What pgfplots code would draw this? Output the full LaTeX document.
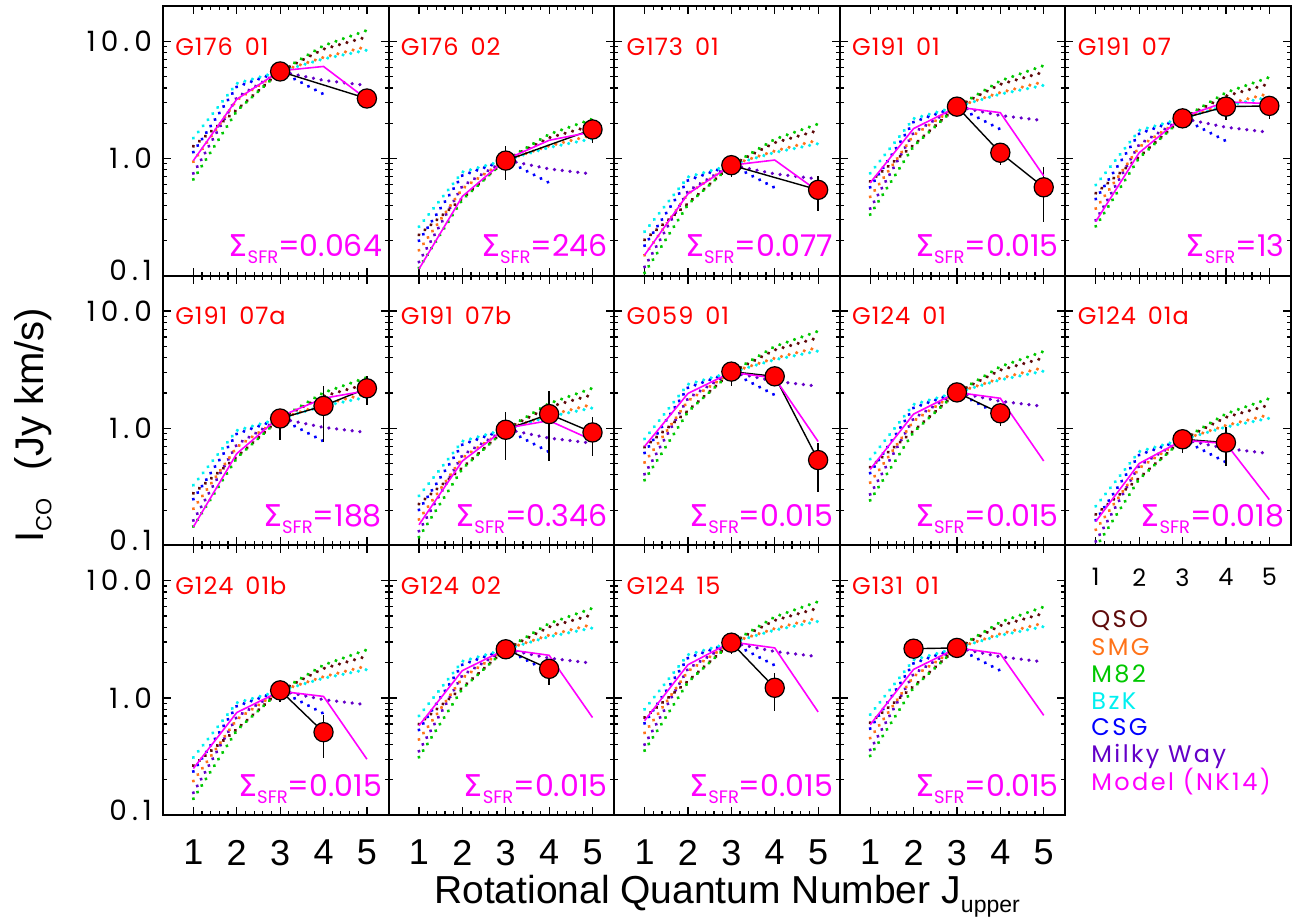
\documentclass[border=0pt]{standalone}
\usepackage{fontspec}
\setmainfont{Poppins}
\newfontfamily\lib{Liberation Sans}
\newfontfamily\dv{DejaVu Sans}
\newfontfamily\tickf[LetterSpace=18]{Poppins}
\newfontfamily\legf[LetterSpace=10]{Poppins}
\newfontfamily\labf[LetterSpace=4]{Poppins}
\usepackage{pgfplots}
\pgfplotsset{compat=1.18}
\usepackage{pgfplotstable}

\definecolor{cqso}{RGB}{95,10,10}
\definecolor{csmg}{RGB}{255,115,25}
\definecolor{cm82}{RGB}{0,200,0}
\definecolor{cbzk}{RGB}{0,240,240}
\definecolor{ccsg}{RGB}{0,0,255}
\definecolor{cmw}{RGB}{100,0,200}
\definecolor{cmod}{RGB}{255,0,255}
\definecolor{clab}{RGB}{255,0,0}

% template SLEDs, normalised to J=3
\pgfplotstableread{
J QSO SMG M82 BzK MW
1 0.23 0.17 0.12 0.27 0.135
2 0.47 0.57 0.46 0.79 0.60
3 1 1 1 1 1
4 1.55 1.32 1.66 1.28 0.84
5 1.97 1.63 2.24 1.52 0.76
}\sledtab
\pgfplotstableread{
J CSG
1 0.205
2 0.74
3 1
4 0.64
}\csgtab

\pgfplotsset{
 myPanel/.style={scale only axis, width=112.8pt, height=134.85pt, anchor=north west,
  xmin=0.3, xmax=5.5, ymin=0.1, ymax=20,
  xtick={1,2,3,4,5}, minor x tick num=4,
  ytick={0.1,1,10},
  minor ytick={0.2,0.3,0.4,0.5,0.6,0.7,0.8,0.9,2,3,4,5,6,7,8,9},
  xticklabels={}, yticklabels={},
  tick align=inside, major tick length=4pt, minor tick length=2pt,
  tick style={black, line width=0.6pt},
  axis line style={line width=1pt},
 },
 myYlab/.style={yticklabels={{\raisebox{5pt}{0.1}},1.0,10.0},
   yticklabel style={font=\tickf\fontsize{14}{14}\selectfont, xshift=-2pt}},
 myXlab/.style={xticklabels={1,2,3,4,5},
   xticklabel style={font=\lib\fontsize{18}{18}\selectfont, yshift=-9pt}},
 myXlabs/.style={xticklabels={1,2,3,4,5},
   xticklabel style={font=\fontsize{12}{12}\selectfont, yshift=-8pt}},
 myTmp/.style={line width=1.8pt, line cap=round, dash pattern=on 0.01pt off 3.9pt, no marks},
}

\newcommand{\templates}[1]{%
 \addplot[myTmp, cmw] table[x=J, y expr=\thisrow{MW}*#1]{\sledtab};
 \addplot[myTmp, ccsg] table[x=J, y expr=\thisrow{CSG}*#1]{\csgtab};
 \addplot[myTmp, cbzk] table[x=J, y expr=\thisrow{BzK}*#1]{\sledtab};
 \addplot[myTmp, csmg] table[x=J, y expr=\thisrow{SMG}*#1]{\sledtab};
 \addplot[myTmp, cqso] table[x=J, y expr=\thisrow{QSO}*#1]{\sledtab};
 \addplot[myTmp, cm82] table[x=J, y expr=\thisrow{M82}*#1]{\sledtab};
}
\newcommand{\obs}[1]{%
 \addplot[only marks, mark=none, error bars/.cd, y dir=both, y explicit, error mark=none,
   error bar style={black, solid, line width=0.7pt}]
   table[x=J, y=I, y error plus=ep, y error minus=em, row sep=\\]{J I ep em\\ #1};
 \addplot[black, line width=0.7pt, mark=*, mark size=4.8pt,
   mark options={fill=red, draw=black, line width=0.6pt}]
   table[x=J, y=I, row sep=\\]{J I ep em\\ #1};
}
\newcommand{\model}[5]{\addplot[cmod, line width=0.8pt, no marks] coordinates {(1,#1)(2,#2)(3,#3)(4,#4)(5,#5)};}
\newcommand{\plab}[1]{\node[anchor=base west, text=clab, font=\labf\fontsize{12}{12}\selectfont, inner sep=0] at (rel axis cs:0.053,0.818) {#1};}
\newcommand{\sfr}[1]{\node[anchor=base east, text=cmod, font=\fontsize{15}{15}\selectfont, inner sep=0] at (rel axis cs:0.972,0.07) {{\dv Σ}\raisebox{-3.5pt}{\fontsize{9}{9}\selectfont SFR}=#1};}

\begin{document}
\begin{tikzpicture}
\useasboundingbox (0,0) rectangle (646.5pt,-461pt);

% ---------- row 1 ----------
\begin{semilogyaxis}[myPanel, myYlab, at={(81.5pt,-3pt)}]
\templates{5.53}
\obs{3 5.53 0 0\\ 5 3.25 0 0\\}
\model{0.96}{3.2}{5.6}{6.1}{3.2}
\plab{G176\hspace{0.5em}01}\sfr{0.064}
\end{semilogyaxis}

\begin{semilogyaxis}[myPanel, at={(194.3pt,-3pt)}]
\templates{0.97}
\obs{3 0.96 0.32 0.31\\ 5 1.77 0.39 0.41\\}
\model{0.114}{0.475}{0.98}{1.43}{1.69}
\plab{G176\hspace{0.5em}02}\sfr{246}
\end{semilogyaxis}

\begin{semilogyaxis}[myPanel, at={(307.1pt,-3pt)}]
\templates{0.88}
\obs{3 0.877 0.12 0.18\\ 5 0.54 0.17 0.186\\}
\model{0.15}{0.50}{0.877}{0.97}{0.525}
\plab{G173\hspace{0.5em}01}\sfr{0.077}
\end{semilogyaxis}

\begin{semilogyaxis}[myPanel, at={(419.9pt,-3pt)}]
\templates{2.77}
\obs{3 2.77 0 0\\ 4 1.12 0.16 0.243\\ 5 0.568 0.272 0.278\\}
\model{0.62}{1.80}{2.75}{2.46}{0.71}
\plab{G191\hspace{0.5em}01}\sfr{0.015}
\end{semilogyaxis}

\begin{semilogyaxis}[myPanel, at={(532.7pt,-3pt)}]
\templates{2.2}
\obs{3 2.20 0.2 0.2\\ 4 2.77 0.35 0.62\\ 5 2.81 0.3 0.65\\}
\model{0.29}{1.12}{2.26}{3.04}{2.94}
\plab{G191\hspace{0.5em}07}\sfr{13}
\end{semilogyaxis}

% ---------- row 2 ----------
\begin{semilogyaxis}[myPanel, myYlab, at={(81.5pt,-137.85pt)}]
\templates{1.21}
\obs{3 1.21 0.15 0.42\\ 4 1.55 0.76 0.78\\ 5 2.19 0.58 0.61\\}
\model{0.144}{0.607}{1.26}{1.80}{2.09}
\plab{G191\hspace{0.5em}07a}\sfr{188}
\end{semilogyaxis}

\begin{semilogyaxis}[myPanel, at={(194.3pt,-137.85pt)}]
\templates{0.98}
\obs{3 0.97 0.41 0.43\\ 4 1.32 0.77 0.795\\ 5 0.92 0.33 0.34\\}
\model{0.15}{0.525}{1.0}{1.16}{0.79}
\plab{G191\hspace{0.5em}07b}\sfr{0.346}
\end{semilogyaxis}

\begin{semilogyaxis}[myPanel, at={(307.1pt,-137.85pt)}]
\templates{3.0}
\obs{3 3.04 0.62 0.73\\ 4 2.77 0.1 0.1\\ 5 0.535 0.215 0.25\\}
\model{0.70}{1.98}{3.0}{2.68}{0.77}
\plab{G059\hspace{0.5em}01}\sfr{0.015}
\end{semilogyaxis}

\begin{semilogyaxis}[myPanel, at={(419.9pt,-137.85pt)}]
\templates{2.02}
\obs{3 2.02 0.1 0.1\\ 4 1.34 0.21 0.29\\}
\model{0.445}{1.32}{2.02}{1.80}{0.525}
\plab{G124\hspace{0.5em}01}\sfr{0.015}
\end{semilogyaxis}

\begin{semilogyaxis}[myPanel, myXlabs, at={(532.7pt,-137.85pt)}]
\templates{0.80}
\obs{3 0.805 0.125 0.185\\ 4 0.754 0.276 0.274\\}
\model{0.16}{0.5}{0.79}{0.74}{0.246}
\plab{G124\hspace{0.5em}01a}\sfr{0.018}
\end{semilogyaxis}

% ---------- row 3 ----------
\begin{semilogyaxis}[myPanel, myYlab, myXlab, at={(81.5pt,-272.7pt)}]
\templates{1.15}
\obs{3 1.16 0.05 0.24\\ 4 0.51 0.205 0.2\\}
\model{0.25}{0.75}{1.14}{1.03}{0.30}
\plab{G124\hspace{0.5em}01b}\sfr{0.015}
\end{semilogyaxis}

\begin{semilogyaxis}[myPanel, myXlab, at={(194.3pt,-272.7pt)}]
\templates{2.6}
\obs{3 2.6 0.1 0.1\\ 4 1.77 0.32 0.48\\}
\model{0.58}{1.71}{2.6}{2.31}{0.68}
\plab{G124\hspace{0.5em}02}\sfr{0.015}
\end{semilogyaxis}

\begin{semilogyaxis}[myPanel, myXlab, at={(307.1pt,-272.7pt)}]
\templates{2.96}
\obs{3 2.96 0.1 0.58\\ 4 1.22 0.41 0.45\\}
\model{0.64}{1.92}{3.0}{2.67}{0.76}
\plab{G124\hspace{0.5em}15}\sfr{0.015}
\end{semilogyaxis}

\begin{semilogyaxis}[myPanel, myXlab, at={(419.9pt,-272.7pt)}]
\templates{2.67}
\obs{2 2.63 0 0\\ 3 2.67 0 0\\}
\model{0.59}{1.75}{2.67}{2.38}{0.71}
\plab{G131\hspace{0.5em}01}\sfr{0.015}
\end{semilogyaxis}

% ---------- legend ----------
\begin{scope}[every node/.style={anchor=base west, inner sep=0, font=\legf\fontsize{12}{12}\selectfont}]
\node[text=cqso] at (545.5pt,-313.5pt) {QSO};
\node[text=csmg] at (545.5pt,-327.5pt) {SMG};
\node[text=cm82] at (545.5pt,-341pt) {M82};
\node[text=cbzk] at (545.5pt,-354.5pt) {BzK};
\node[text=ccsg] at (545.5pt,-367.5pt) {CSG};
\node[text=cmw] at (545.5pt,-381pt) {Milky Way};
\node[text=cmod] at (545.5pt,-395pt) {Model (NK14)};
\end{scope}

% ---------- axis titles ----------
\node[rotate=90, font=\lib\fontsize{20}{20}\selectfont, inner sep=0] at (16.5pt,-212.5pt)
  {I\raisebox{-4pt}{\fontsize{11}{11}\selectfont CO}\hspace{0.7em}(Jy km/s)};
\node[anchor=base, font=\lib\fontsize{19.5}{19.5}\selectfont, inner sep=0] at (363.5pt,-451.5pt)
  {Rotational Quantum Number J\raisebox{-4.5pt}{\fontsize{11.5}{11.5}\selectfont upper}};
\end{tikzpicture}
\end{document}
